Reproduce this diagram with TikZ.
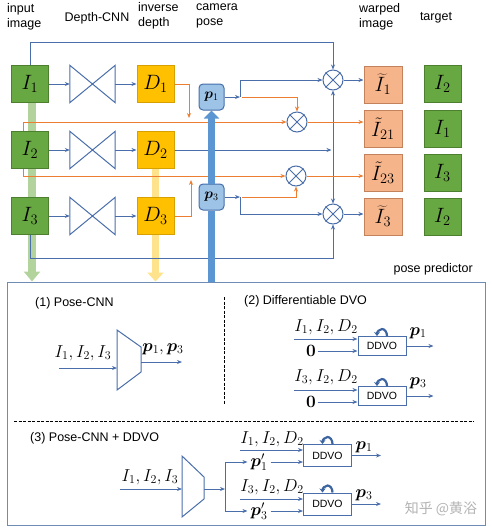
\documentclass[tikz,border=0pt]{standalone}
\usepackage[no-math]{fontspec}
\setmainfont{Liberation Sans}
\newfontfamily\cjk{Noto Sans CJK SC}
\usepackage{bm}
\usetikzlibrary{arrows.meta,positioning}

\definecolor{lineblue}{RGB}{74,110,170}
\definecolor{orng}{RGB}{237,125,49}
\definecolor{grnfill}{RGB}{104,168,66}
\definecolor{grnedge}{RGB}{76,128,46}
\definecolor{ylwfill}{RGB}{255,192,0}
\definecolor{ylwedge}{RGB}{214,160,0}
\definecolor{salmfill}{RGB}{246,180,138}
\definecolor{salmedge}{RGB}{196,130,92}
\definecolor{posefill}{RGB}{157,195,230}
\definecolor{poseedge}{RGB}{70,110,170}
\definecolor{barblue}{RGB}{91,150,210}
\definecolor{grnlt}{RGB}{178,212,156}
\definecolor{ylwlt}{RGB}{255,226,140}
\definecolor{ppedge}{RGB}{110,140,180}
\definecolor{loopblue}{RGB}{60,100,160}

\tikzset{
  hdr/.style={align=left, inner sep=0pt, font=\fontsize{12.5}{15}\selectfont},
  sect/.style={hdr, anchor=west},
  imgbox/.style={draw=grnedge, fill=grnfill, line width=1pt, minimum width=37pt, minimum height=37pt, inner sep=0pt, font=\fontsize{21}{21}\selectfont},
  depbox/.style={imgbox, draw=ylwedge, fill=ylwfill},
  warpbox/.style={imgbox, draw=salmedge, fill=salmfill, minimum width=38pt, font=\fontsize{20}{20}\selectfont},
  posebox/.style={draw=poseedge, fill=posefill, line width=1pt, rounded corners=4pt, minimum width=25pt, minimum height=26pt, inner sep=0pt, font=\fontsize{14}{14}\selectfont},
  cnnbox/.style={minimum width=45pt, minimum height=37pt, inner sep=0pt},
  mult/.style={circle, draw=lineblue, line width=1pt, fill=white, minimum size=20pt, inner sep=0pt},
  ln/.style={draw=lineblue, line width=1pt},
  arr/.style={ln, -{Stealth[length=5pt,width=4pt]}},
  dblarr/.style={ln, {Stealth[length=5pt,width=4pt]}-{Stealth[length=5pt,width=4pt]}},
  oarr/.style={arr, draw=orng},
  bigbar/.style={draw=barblue, line width=7pt},
  ddvo/.style={draw=lineblue, line width=1pt, fill=white, minimum width=48pt, minimum height=19pt, inner sep=0pt, font=\fontsize{10.5}{11}\selectfont},
  mlab/.style={inner sep=1.5pt, font=\fontsize{17}{17}\selectfont},
  loopy/.style={draw=loopblue, line width=2.2pt, -{Stealth[length=4pt,width=6pt]}},
  sep/.style={black, line width=1pt, dash pattern=on 3pt off 1.5pt},
}

\begin{document}
\begin{tikzpicture}[x=1pt,y=-1pt]
\useasboundingbox (0,0) rectangle (492,531);

% column headers
\node[hdr,anchor=west] (hin) at (7,17) {input\\image};
\node[hdr] (hcnn) at (97,18) {Depth-CNN};
\node[hdr,anchor=west] (hinv) at (138,16) {inverse\\depth};
\node[hdr,anchor=west] (hcam) at (196,16) {camera\\pose};
\node[hdr,anchor=west] (hwarp) at (359,17) {warped\\image};
\node[hdr] (htgt) at (436,18) {target};

% pose predictor frame
\node[draw=ppedge, line width=1pt, minimum width=478pt, minimum height=243pt, inner sep=0pt] (pp) at (246,403.5) {};
\node[hdr,anchor=east] (pplab) at (473,269) {pose predictor};

% upper part
\node[imgbox] (I1) at (30,84) {$I_1$};
\node[imgbox] (I2) at (30,150) {$I_2$};
\node[imgbox] (I3) at (30,216) {$I_3$};
\node[cnnbox] (cnn1) at (92.5,84) {};
\node[cnnbox] (cnn2) at (92.5,150) {};
\node[cnnbox] (cnn3) at (92.5,216) {};
\node[depbox] (D1) at (155.5,84) {$D_1$};
\node[depbox] (D2) at (155.5,150) {$D_2$};
\node[depbox] (D3) at (155.5,216) {$D_3$};
\node[posebox] (p1) at (211.5,97) {$\bm{p}_1$};
\node[posebox] (p3) at (211.5,197) {$\bm{p}_3$};
\node[mult] (o1) at (333,80) {};
\node[mult] (o2) at (297,122) {};
\node[mult] (o3) at (296,176) {};
\node[mult] (o4) at (333,214) {};
\node[warpbox] (W1) at (383,84.5) {$\widetilde{I}_1$};
\node[warpbox] (W21) at (383,129) {$\tilde{I}_{21}$};
\node[warpbox] (W23) at (383,173) {$\tilde{I}_{23}$};
\node[warpbox] (W3) at (383,216.5) {$\widetilde{I}_3$};
\node[imgbox] (T1) at (442.5,84) {$I_2$};
\node[imgbox] (T2) at (442.5,129) {$I_1$};
\node[imgbox] (T3) at (442.5,173) {$I_3$};
\node[imgbox] (T4) at (442.5,217) {$I_2$};

\draw[ln] (cnn1.north west) -- (cnn1.south east) -- (cnn1.north east) -- (cnn1.south west) -- cycle;
\draw[ln] (cnn2.north west) -- (cnn2.south east) -- (cnn2.north east) -- (cnn2.south west) -- cycle;
\draw[ln] (cnn3.north west) -- (cnn3.south east) -- (cnn3.north east) -- (cnn3.south west) -- cycle;

% wide arrows into the pose predictor
\draw[grnlt, line width=8pt] ([xshift=2pt]I1.south) -- ([xshift=2pt]I2.north);
\draw[grnlt, line width=8pt] ([xshift=2pt]I2.south) -- ([xshift=2pt]I3.north);
\draw[grnlt, line width=8pt, -{Triangle[width=16pt,length=10pt]}] ([xshift=2pt]I3.south) -- ([xshift=2pt]I3.south |- pp.north);
\draw[ylwlt, line width=7pt] (D2.south) -- (D3.north);
\draw[ylwlt, line width=7pt, -{Triangle[width=16pt,length=9pt]}] (D3.south) -- (D3.south |- pp.north);

\draw[arr] (I1) -- (cnn1);
\draw[arr] (I2) -- (cnn2);
\draw[arr] (I3) -- (cnn3);
\draw[arr] (cnn1) -- (D1);
\draw[arr] (cnn2) -- (D2);
\draw[arr] (cnn3) -- (D3);

\draw[arr] (I1.north) -- ++(0,-23) -| (o1.north);
\draw[arr] (I3.south) -- ++(0,23) -| (o4.south);
\draw[arr] (D2) -- ([xshift=-1.5pt]D2 -| o1);
\draw[dblarr] (o1) -- (o4);

\coordinate (b1) at (240,97);
\coordinate (b3) at (240,197);
\draw[arr] (p1) -- (b1);
\draw[arr] (b1) |- (o1);
\draw[oarr] ([xshift=2pt]b1) -| (o2);
\draw[arr] (p3) -- (b3);
\draw[arr] (b3) |- (o4);
\draw[oarr] ([xshift=2pt]b3) -| (o3);

\coordinate (j1) at (189,118);
\coordinate (j3) at (191,180);
\draw[oarr] ([xshift=-7pt]I2.north) |- (o2);
\draw[oarr] ([xshift=-7pt]I2.south) |- (o3);
\draw[oarr] (D1) -| (j1);
\draw[oarr] (D3) -| (j3);

\draw[arr] (o1) -- (o1 -| W1.west);
\draw[oarr] (o2) -- (o2 -| W21.west);
\draw[oarr] (o3) -- (o3 -| W23.west);
\draw[arr] (o4) -- (o4 -| W3.west);

\draw[ln] (o1.north west) -- (o1.south east) (o1.north east) -- (o1.south west);
\draw[ln] (o2.north west) -- (o2.south east) (o2.north east) -- (o2.south west);
\draw[ln] (o3.north west) -- (o3.south east) (o3.north east) -- (o3.south west);
\draw[ln] (o4.north west) -- (o4.south east) (o4.north east) -- (o4.south west);

% pose bar
\draw[bigbar] (p3.south |- pp.north) -- (p3.south);
\draw[bigbar, -{Triangle[width=15pt,length=8pt]}] (p3.north) -- (p1.south);

% lower part
\draw[sep] (224,297) -- (224,405);
\draw[sep] (14,421) -- (474,421);

% (1)
\node[sect] (s1) at (35,303) {(1) Pose-CNN};
\draw[ln] (117,330) -- (141,347) -- (141,372) -- (117,390) -- cycle;
\coordinate (t1in) at (59,368);
\coordinate (t1w) at (117,368);
\coordinate (t1e) at (141,362);
\coordinate (t1out) at (182,362);
\draw[arr] (t1in) -- (t1w);
\draw[arr] (t1e) -- (t1out);
\node[mlab] (l1in) at (83,353) {$I_1,I_2,I_3$};
\node[mlab] (l1out) at (163,349) {$\bm{p}_1,\bm{p}_3$};

% (2)
\node[sect] (s2) at (244,301) {(2) Differentiable DVO};
\node[ddvo] (dv1) at (382,346) {DDVO};
\node[ddvo] (dv2) at (382,396) {DDVO};
\coordinate (a1) at (294,339);
\coordinate (a2) at (294,390);
\draw[arr] (a1) -- (a1 -| dv1.west);
\draw[arr] (a2) -- (a2 -| dv2.west);
\node[mlab] (la1) at (326,327) {$I_1,I_2,D_2$};
\node[mlab] (la2) at (326,377) {$I_3,I_2,D_2$};
\node[mlab] (z1) at (311,351) {$\mathbf{0}$};
\node[mlab] (z2) at (311,402) {$\mathbf{0}$};
\draw[arr] (z1) -- (z1 -| dv1.west);
\draw[arr] (z2) -- (z2 -| dv2.west);
\draw[arr] (dv1.east) -- ++(27,0);
\draw[arr] (dv2.east) -- ++(27,0);
\node[mlab] (lp1) at (418,333) {$\bm{p}_1$};
\node[mlab] (lp2) at (418,383) {$\bm{p}_3$};
\draw[loopy] ([xshift=5pt]dv1.north) arc[start angle=0, end angle=-180, x radius=5, y radius=7];
\draw[loopy] ([xshift=5pt]dv2.north) arc[start angle=0, end angle=-180, x radius=5, y radius=7];

% (3)
\node[sect] (s3) at (30,438) {(3) Pose-CNN + DDVO};
\draw[ln] (182,456) -- (204,477) -- (204,499) -- (182,517) -- cycle;
\coordinate (t3in) at (120,489);
\coordinate (t3w) at (182,489);
\coordinate (t3e) at (204,489);
\coordinate (sp) at (225,489);
\draw[arr] (t3in) -- (t3w);
\draw[arr] (t3e) -- (sp);
\node[mlab] (l3in) at (150,477) {$I_1,I_2,I_3$};
\node[mlab, inner sep=3pt] (q1) at (259,462) {$\bm{p}_1'$};
\node[mlab, inner sep=3pt] (q3) at (259,511) {$\bm{p}_3'$};
\draw[arr] (sp) |- (q1);
\draw[arr] (sp) |- (q3);
\node[ddvo, minimum height=22pt] (dv3) at (327.5,455.5) {DDVO};
\node[ddvo, minimum height=22pt] (dv4) at (327.5,504) {DDVO};
\coordinate (a3) at (240,450);
\coordinate (a4) at (240,499);
\draw[arr] (a3) -- (a3 -| dv3.west);
\draw[arr] (a4) -- (a4 -| dv4.west);
\node[mlab] (la3) at (272,439) {$I_1,I_2,D_2$};
\node[mlab] (la4) at (272,487) {$I_3,I_2,D_2$};
\draw[arr] (q1) -- (q1 -| dv3.west);
\draw[arr] (q3) -- (q3 -| dv4.west);
\draw[arr] (dv3.east) -- ++(29,0);
\draw[arr] (dv4.east) -- ++(29,0);
\node[mlab] (lp3) at (364,447) {$\bm{p}_1$};
\node[mlab] (lp4) at (364,495) {$\bm{p}_3$};
\draw[loopy] ([xshift=5pt]dv3.north) arc[start angle=0, end angle=-180, x radius=5, y radius=7];
\draw[loopy] ([xshift=5pt]dv4.north) arc[start angle=0, end angle=-180, x radius=5, y radius=7];

\node[text=black!30, font=\cjk\fontsize{14}{14}\selectfont] (wm) at (441,509) {知乎 @黄浴};
\end{tikzpicture}
\end{document}
